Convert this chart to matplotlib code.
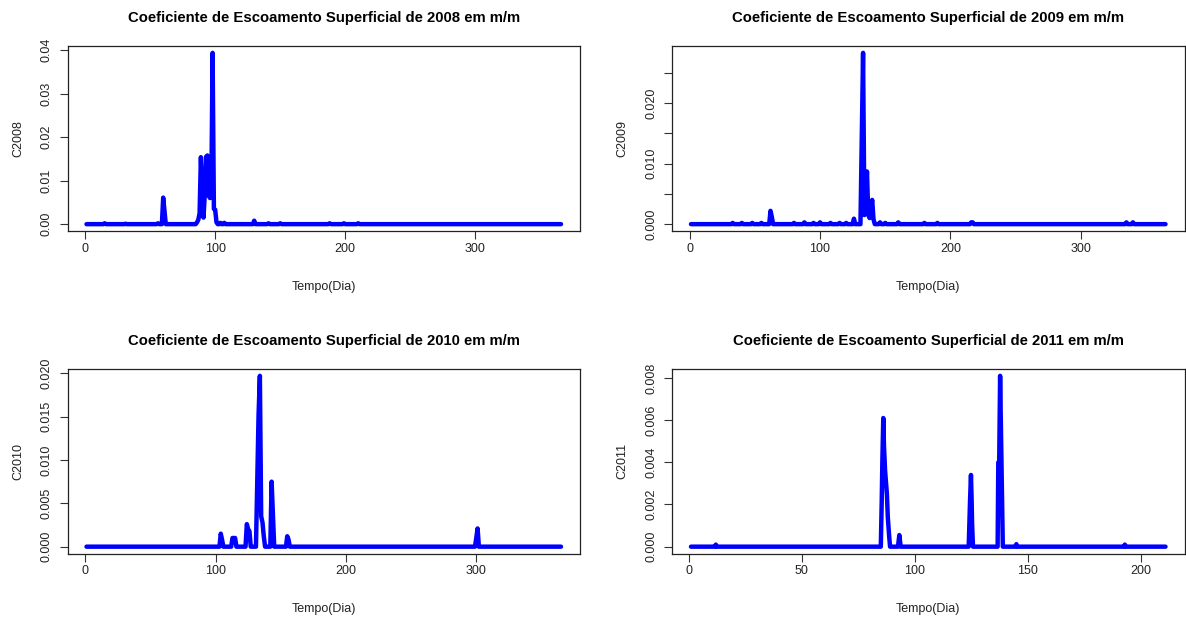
import numpy as np
import matplotlib
matplotlib.use("Agg")
import matplotlib.pyplot as plt
from matplotlib.ticker import FixedLocator, FixedFormatter

plt.rcParams['font.family'] = ['Liberation Sans', 'DejaVu Sans']

# Daily runoff coefficients (m/m); days not listed are zero
n_days_2008 = 366
days_2008 = [15, 31, 56, 60, 61, 86, 87, 88, 89, 90, 91, 92, 93, 94, 95, 96, 97, 98,
             99, 100, 101, 104, 107, 130, 141, 150, 188, 199, 210]
vals_2008 = [0.0002, 0.0001, 0.0002, 0.0061, 0.0030, 0.0004, 0.0010, 0.0025, 0.0154,
             0.0070, 0.0015, 0.0070, 0.0155, 0.0158, 0.0065, 0.0060, 0.0070, 0.0394,
             0.0035, 0.0033, 0.0004, 0.0003, 0.0003, 0.0008, 0.0002, 0.0002, 0.0002,
             0.0002, 0.0002]

n_days_2009 = 365
days_2009 = [33, 40, 48, 55, 62, 63, 80, 88, 95, 100, 108, 115, 120, 126, 132, 133,
             134, 135, 136, 137, 138, 139, 140, 141, 146, 150, 160, 180, 190, 216,
             217, 335, 340]
vals_2009 = [0.0002, 0.0002, 0.0002, 0.0002, 0.0022, 0.0012, 0.0002, 0.0003, 0.0002,
             0.0003, 0.0002, 0.0002, 0.0002, 0.0009, 0.0142, 0.0283, 0.0015, 0.0040,
             0.0087, 0.0015, 0.0010, 0.0025, 0.0040, 0.0008, 0.0003, 0.0002, 0.0003,
             0.0002, 0.0002, 0.0003, 0.0003, 0.0003, 0.0003]

n_days_2010 = 365
days_2010 = [104, 105, 113, 114, 115, 124, 125, 126, 132, 133, 134, 135, 136, 137,
             143, 144, 155, 156, 300, 301]
vals_2010 = [0.0015, 0.0008, 0.0010, 0.0010, 0.0010, 0.0026, 0.0020, 0.0018, 0.0077,
             0.0152, 0.0197, 0.0035, 0.0028, 0.0012, 0.0075, 0.0038, 0.0012, 0.0008,
             0.0010, 0.0021]

# 2011 record (sub-daily times, in days), zero between the listed events
n_days_2011 = 211
times_2011 = [11.7, 12.0, 12.3,
              85.0, 85.4, 85.7, 86.1, 86.4, 86.9, 87.7, 88.1, 88.7, 89.1,
              92.6, 93.2, 93.8,
              123.9, 124.2, 124.5, 124.9, 125.2, 125.4, 125.8,
              136.7, 137.0, 137.4, 137.8, 138.2, 138.6, 139.0,
              144.6, 145.0, 145.4,
              192.7, 193.0, 193.3]
vals_2011 = [0.0, 0.0001, 0.0,
             0.0, 0.0021, 0.0041, 0.0061, 0.0048, 0.0036, 0.0025, 0.0014, 0.0005, 0.0,
             0.0, 0.00055, 0.0,
             0.0, 0.0011, 0.0022, 0.0034, 0.0022, 0.0011, 0.0,
             0.0, 0.0040, 0.0040, 0.0081, 0.0054, 0.0027, 0.0,
             0.0, 0.00012, 0.0,
             0.0, 0.0001, 0.0]

years = ["2008", "2009", "2010", "2011"]

x_ticks = [[0, 100, 200, 300], [0, 100, 200, 300], [0, 100, 200, 300],
           [0, 50, 100, 150, 200]]
y_ticks = [[0.00, 0.01, 0.02, 0.03, 0.04],
           [0.000, 0.005, 0.010, 0.015, 0.020, 0.025],
           [0.000, 0.005, 0.010, 0.015, 0.020],
           [0.000, 0.002, 0.004, 0.006, 0.008]]
y_tick_labels = [["0.00", "0.01", "0.02", "0.03", "0.04"],
                 ["0.000", "", "0.010", "", "0.020", ""],
                 ["0.000", "0.005", "0.010", "0.015", "0.020"],
                 ["0.000", "0.002", "0.004", "0.006", "0.008"]]


def daily_series(n, days, vals):
    t = np.arange(1, n + 1, dtype=float)
    c = np.zeros(n)
    c[np.array(days) - 1] = vals
    return t, c


def event_series(n, times, vals):
    t = np.concatenate([[1.0], times, [float(n)]])
    c = np.concatenate([[0.0], vals, [0.0]])
    return t, c


series = [daily_series(n_days_2008, days_2008, vals_2008),
          daily_series(n_days_2009, days_2009, vals_2009),
          daily_series(n_days_2010, days_2010, vals_2010),
          event_series(n_days_2011, times_2011, vals_2011)]

W, H = 1186, 618
fig = plt.figure(figsize=(W / 100, H / 100), dpi=100)
fig.patch.set_facecolor("white")

# plot regions in pixels: (left, top, right, bottom)
boxes = [(67.5, 46, 580, 231), (672, 46, 1184.5, 231),
         (67.5, 369, 580, 553.5), (672, 369, 1184.5, 553.5)]


def r_limits(lo, hi):
    d = (hi - lo) * 0.04
    return lo - d, hi + d


for i, yr in enumerate(years):
    l, t, r, b = boxes[i]
    ax = fig.add_axes([l / W, 1 - b / H, (r - l) / W, (b - t) / H])
    x, c = series[i]

    ax.plot(x, c, color="#0000FF", lw=3.2, solid_joinstyle="round",
            solid_capstyle="round")
    ax.set_xlim(*r_limits(1, x.max()))
    ax.set_ylim(*r_limits(0, c.max()))

    ax.xaxis.set_major_locator(FixedLocator(x_ticks[i]))
    ax.set_xticklabels([str(v) for v in x_ticks[i]])
    ax.yaxis.set_major_locator(FixedLocator(y_ticks[i]))
    ax.yaxis.set_major_formatter(FixedFormatter(y_tick_labels[i]))
    for lab in ax.get_yticklabels():
        lab.set_rotation(90)
        lab.set_va("center")

    ax.tick_params(axis="both", direction="out", length=6, width=0.8,
                   color="#333333", labelsize=9, labelcolor="#222222")
    ax.tick_params(axis="x", pad=2.4)
    ax.tick_params(axis="y", pad=4.5)
    for sp in ax.spines.values():
        sp.set_linewidth(0.9)
        sp.set_color("#222222")

    ax.set_xlabel("Tempo(Dia)", fontsize=9, color="#222222")
    ax.set_ylabel("C" + yr, fontsize=9, color="#222222")
    ax.xaxis.set_label_coords(0.5, -55.5 / (b - t))
    ax.yaxis.set_label_coords(-49.5 / (r - l), 0.5)
    ax.xaxis.label.set_va("center")
    ax.yaxis.label.set_va("center")

    ax.text(0.5, 1 + 28.5 / (b - t),
            "Coeficiente de Escoamento Superficial de " + yr + " em m/m",
            transform=ax.transAxes, ha="center", va="center",
            fontsize=10.7, fontweight="bold", color="black")

fig.savefig("out.png", dpi=100, facecolor="white")
